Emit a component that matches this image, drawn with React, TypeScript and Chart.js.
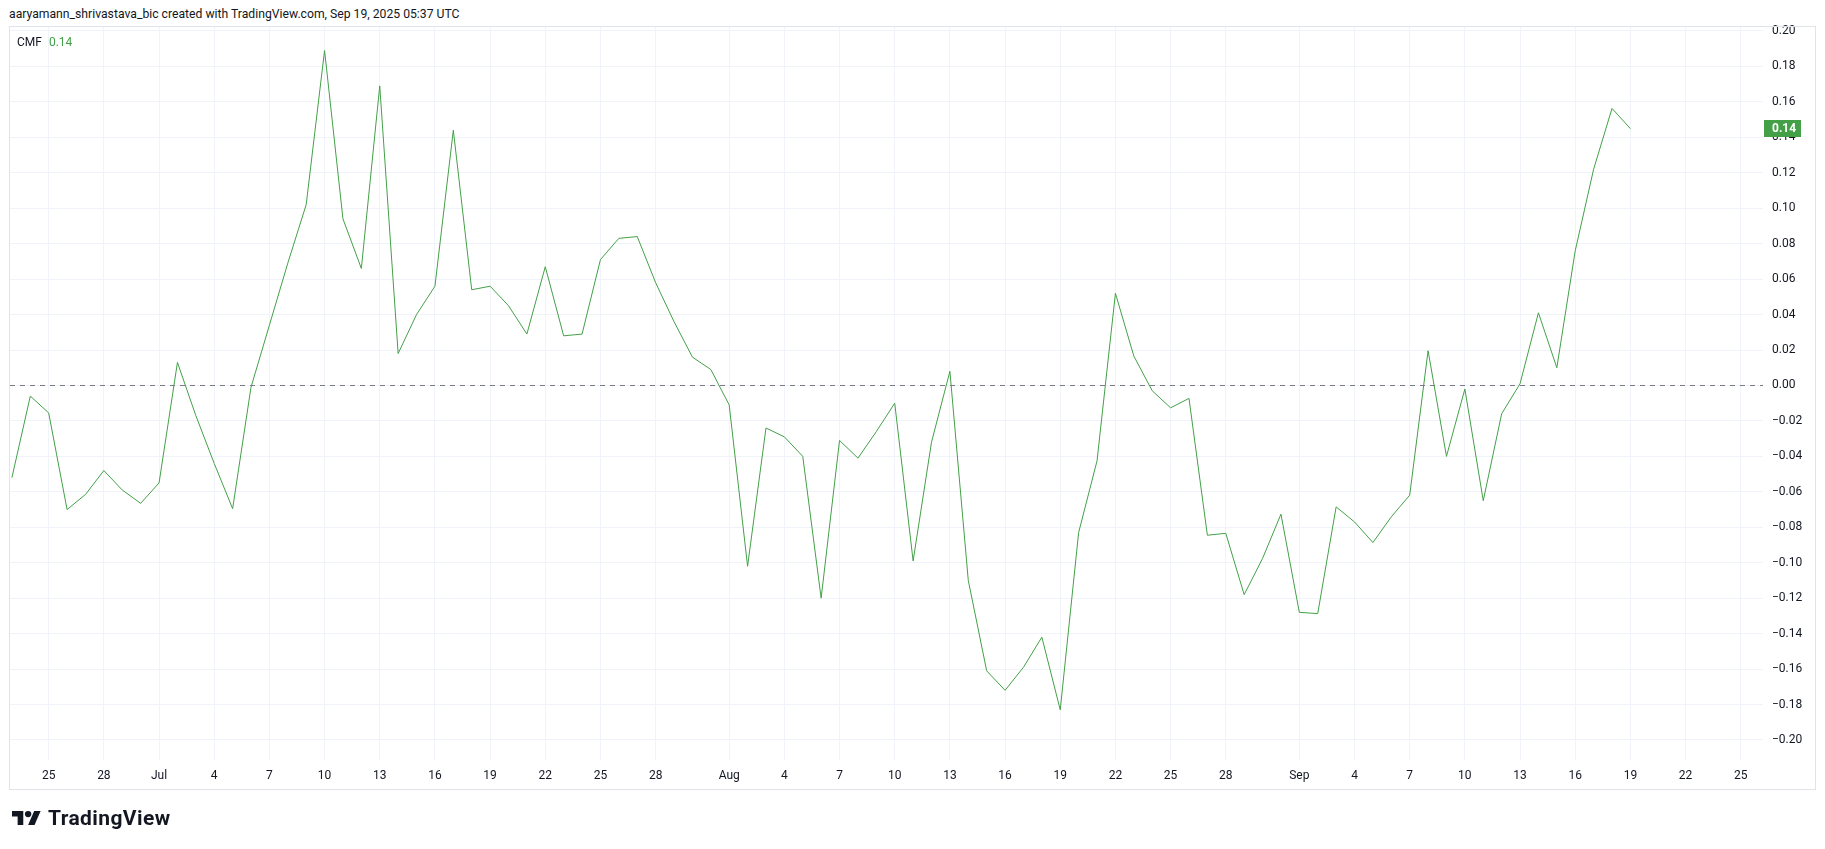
import React, { useEffect, useRef } from "react";
import { Chart, registerables } from "chart.js";

Chart.register(...registerables);

// ---- data ----
const seriesName = "CMF";
// daily Chaikin Money Flow, Jun 23 2025 -> Sep 19 2025 (day index = position)
const cmfValues: number[] = [
  -0.052, -0.006, -0.0155, -0.070, -0.0615, -0.048, -0.059, -0.0665, -0.055, 0.013,
  -0.017, -0.044, -0.0695, -0.001, 0.034, 0.069, 0.102, 0.189, 0.094, 0.066,
  0.169, 0.018, 0.040, 0.056, 0.144, 0.054, 0.056, 0.045, 0.029, 0.067,
  0.028, 0.029, 0.071, 0.083, 0.084, 0.058, 0.036, 0.016, 0.009, -0.011,
  -0.102, -0.024, -0.029, -0.040, -0.120, -0.031, -0.041, -0.026, -0.010, -0.099,
  -0.032, 0.008, -0.110, -0.161, -0.172, -0.159, -0.142, -0.183, -0.083, -0.0425,
  0.052, 0.0166, -0.003, -0.0126, -0.0073, -0.0845, -0.0834, -0.118, -0.0976, -0.0726,
  -0.128, -0.1287, -0.0685, -0.077, -0.0886, -0.0741, -0.0619, 0.0196, -0.040, -0.002,
  -0.065, -0.016, 0.001, 0.041, 0.010, 0.076, 0.122, 0.1563, 0.1449,
];
// time-axis ticks (day index from Jun 23) and their labels
const xTickDays: number[] = [2, 5, 8, 11, 14, 17, 20, 23, 26, 29, 32, 35, 39, 42, 45, 48, 51, 54, 57, 60, 63, 66, 70, 73, 76, 79, 82, 85, 88, 91, 94];
const xTickLabels: string[] = ["25", "28", "Jul", "4", "7", "10", "13", "16", "19", "22", "25", "28", "Aug", "4", "7", "10", "13", "16", "19", "22", "25", "28", "Sep", "4", "7", "10", "13", "16", "19", "22", "25"];
const yTickValues: number[] = [-0.2, -0.18, -0.16, -0.14, -0.12, -0.1, -0.08, -0.06, -0.04, -0.02, 0, 0.02, 0.04, 0.06, 0.08, 0.1, 0.12, 0.14, 0.16, 0.18, 0.2];
const xRange = { min: -0.104, max: 95.21 };
const yRange = { min: -0.2113, max: 0.2028 };

const headerText = "aaryamann_shrivastava_bic created with TradingView.com, Sep 19, 2025 05:37 UTC";

const GREEN = "#43a047";
const TEXT = "#131722";
const GRID = "#f0f3fa";
const FONT = "Roboto, 'Liberation Sans', sans-serif";

const fmt = (v: number) => {
  const s = Math.abs(v).toFixed(2);
  return v < -1e-9 ? "\u2212" + s : s;
};

export default function App() {
  const ref = useRef<HTMLCanvasElement>(null);
  const last = cmfValues[cmfValues.length - 1];

  useEffect(() => {
    const canvas = ref.current;
    if (!canvas) return;

    const zeroLine = {
      id: "zeroLine",
      beforeDatasetsDraw(chart: any) {
        const { ctx, chartArea, scales } = chart;
        const y = Math.round(scales.y.getPixelForValue(0)) + 0.5;
        ctx.save();
        ctx.strokeStyle = "#787b86";
        ctx.lineWidth = 1;
        ctx.setLineDash([5, 5]);
        ctx.beginPath();
        ctx.moveTo(chartArea.left, y);
        ctx.lineTo(chartArea.right, y);
        ctx.stroke();
        ctx.restore();
      },
    };

    const badge = {
      id: "badge",
      afterDraw(chart: any) {
        const { ctx, chartArea, scales } = chart;
        const y = scales.y.getPixelForValue(last);
        const x0 = chartArea.right + 1;
        ctx.save();
        ctx.fillStyle = GREEN;
        ctx.fillRect(x0, Math.round(y - 8.5), 37, 17);
        ctx.fillStyle = "#ffffff";
        ctx.font = `bold 12px ${FONT}`;
        ctx.textAlign = "left";
        ctx.textBaseline = "middle";
        ctx.fillText(fmt(last), chartArea.right + 9, Math.round(y - 8.5) + 9);
        ctx.restore();
      },
    };

    const chart = new Chart(canvas, {
      type: "line",
      data: {
        datasets: [
          {
            label: seriesName,
            data: cmfValues.map((v, i) => ({ x: i, y: v })),
            borderColor: GREEN,
            borderWidth: 1,
            pointRadius: 0,
            tension: 0,
            fill: false,
          },
        ],
      },
      options: {
        animation: false,
        responsive: false,
        maintainAspectRatio: false,
        devicePixelRatio: 1,
        layout: { padding: { left: 10, top: 26, right: 10, bottom: 60 } },
        plugins: { legend: { display: false }, tooltip: { enabled: false } },
        scales: {
          x: {
            type: "linear",
            position: "bottom",
            min: xRange.min,
            max: xRange.max,
            afterBuildTicks: (s: any) => {
              s.ticks = xTickDays.map((value) => ({ value }));
            },
            afterFit: (s: any) => {
              s.height = 29;
            },
            ticks: {
              autoSkip: false,
              maxRotation: 0,
              minRotation: 0,
              padding: 9,
              color: TEXT,
              font: { family: FONT, size: 12 },
              callback: (v: any) => {
                const k = xTickDays.indexOf(Number(v));
                return k >= 0 ? xTickLabels[k] : "";
              },
            },
            grid: { color: GRID, drawTicks: false, lineWidth: 1 },
            border: { display: false },
          },
          y: {
            type: "linear",
            position: "right",
            min: yRange.min,
            max: yRange.max,
            afterBuildTicks: (s: any) => {
              s.ticks = yTickValues.map((value) => ({ value }));
            },
            afterFit: (s: any) => {
              s.width = 52;
            },
            ticks: {
              padding: 9,
              color: TEXT,
              font: { family: FONT, size: 12 },
              callback: (v: any) => fmt(Number(v)),
            },
            grid: { color: GRID, drawTicks: false, lineWidth: 1 },
            border: { display: false },
          },
        },
      },
      plugins: [zeroLine, badge],
    } as any);

    return () => chart.destroy();
  }, []);

  return (
    <div
      style={{
        position: "absolute",
        left: 0,
        top: 0,
        width: 1825,
        height: 849,
        background: "#ffffff",
        fontFamily: FONT,
        color: TEXT,
        overflow: "hidden",
      }}
    >
      <div style={{ position: "absolute", left: 9, top: 6, fontSize: 12.2, lineHeight: "17px", whiteSpace: "nowrap" }}>
        {headerText}
      </div>
      <canvas
        ref={ref}
        width={1825}
        height={849}
        style={{ position: "absolute", left: 0, top: 0, width: 1825, height: 849 }}
      />
      <div
        style={{
          position: "absolute",
          left: 9,
          top: 26,
          width: 1807,
          height: 764,
          boxSizing: "border-box",
          border: "1px solid #e0e3eb",
          pointerEvents: "none",
        }}
      />
      <div style={{ position: "absolute", left: 17, top: 34, fontSize: 12, lineHeight: "16px", whiteSpace: "nowrap" }}>
        <span>{seriesName}</span>
        <span style={{ color: GREEN, marginLeft: 7 }}>{fmt(last)}</span>
      </div>
      <div style={{ position: "absolute", left: 12, top: 806, display: "flex", alignItems: "center", height: 24 }}>
        <svg width={29} height={14} viewBox="0 4 36 18" preserveAspectRatio="none">
          <path d="M14 22H7V11H0V4h14v18z" fill={TEXT} />
          <circle cx={20} cy={8} r={4} fill={TEXT} />
          <path d="M28 22h-8l7.5-18h8L28 22z" fill={TEXT} />
        </svg>
        <span style={{ marginLeft: 7, fontSize: 21, fontWeight: 700, letterSpacing: 0.4, lineHeight: "24px" }}>TradingView</span>
      </div>
    </div>
  );
}
